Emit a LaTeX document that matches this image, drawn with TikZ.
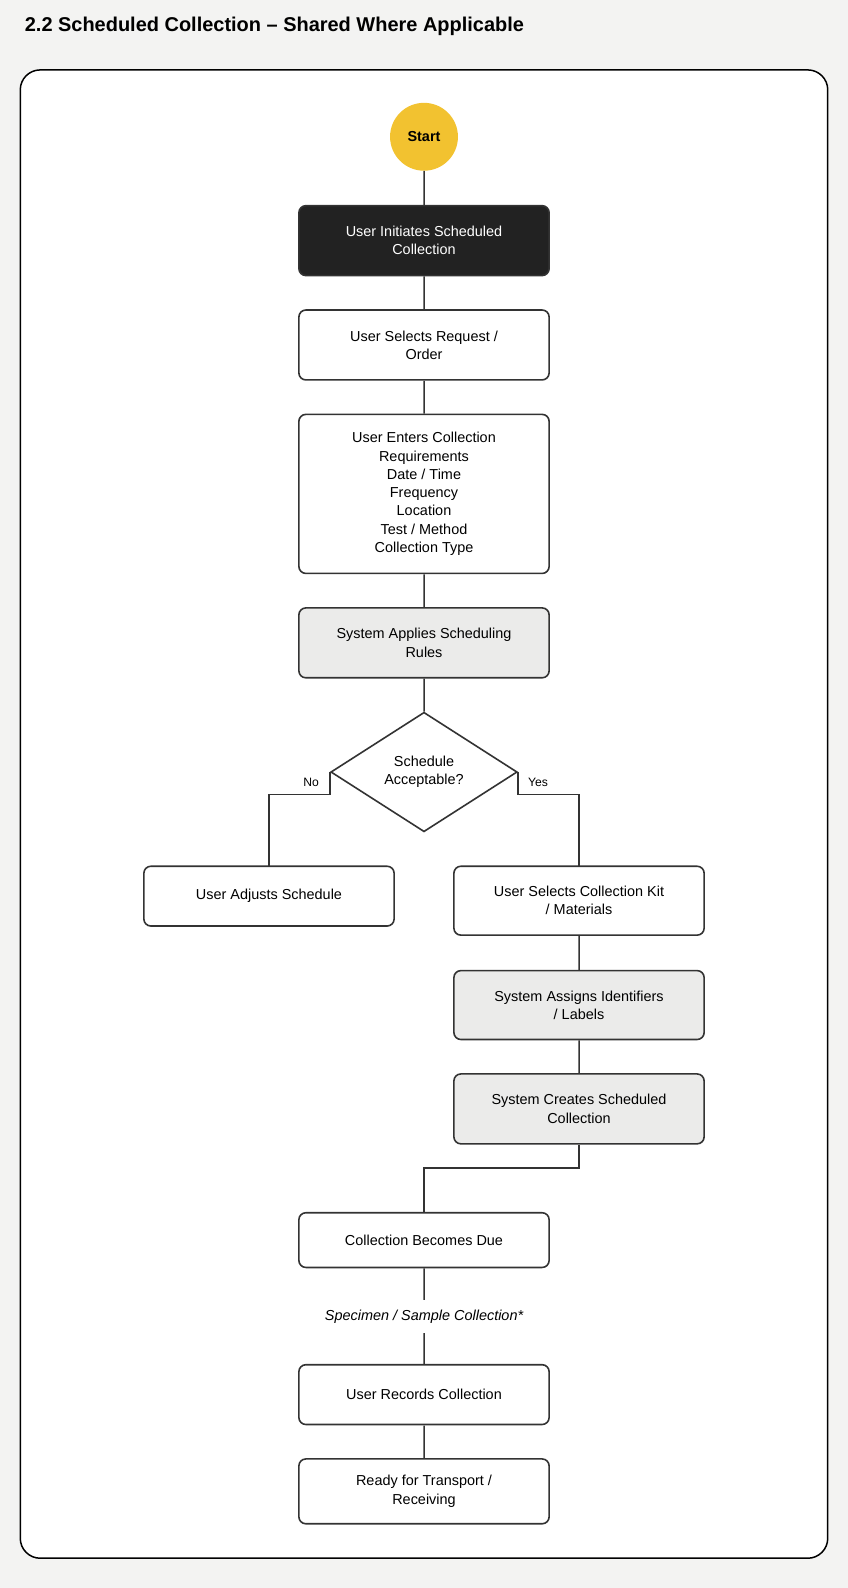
\documentclass[tikz,border=0pt]{standalone}
\usepackage{fontspec}
\setmainfont{Liberation Sans}
\usetikzlibrary{shapes.geometric}
\definecolor{bgc}{HTML}{F3F3F2}
\definecolor{linec}{HTML}{333333}
\definecolor{darkc}{HTML}{222222}
\definecolor{grayc}{HTML}{EBEBEA}
\definecolor{startc}{HTML}{F2C230}
\begin{document}
\begin{tikzpicture}[x=1pt,y=-1pt,scale=1.0131,
  every node/.style={transform shape, font=\fontsize{14.25}{18}\selectfont, text=black},
  procbox/.style={draw=linec, line width=1.6pt, rounded corners=7pt, fill=white, minimum width=247pt, align=center, inner sep=0pt},
  darkbox/.style={procbox, fill=darkc, text=white},
  graybox/.style={procbox, fill=grayc},
  conn/.style={draw=linec, line width=1.6pt},
  lbl/.style={font=\fontsize{12}{14}\selectfont}
]
\useasboundingbox (0,0) rectangle (837,1567.4);
\fill[bgc] (0,0) rectangle (837,1567.4);
\node[anchor=west, font=\bfseries\fontsize{19.7}{23}\selectfont] (title) at (21,26) {2.2 Scheduled Collection – Shared Where Applicable};
\draw[draw=black, line width=1.5pt, fill=white, rounded corners=20pt] (20,69) rectangle (817,1538);

\node[circle, fill=startc, minimum size=67pt, inner sep=0pt, font=\bfseries\fontsize{14.25}{16}\selectfont] (start) at (418.5,135) {Start};
\node[darkbox, minimum height=69pt] (b1) at (418.5,237.5) {User Initiates Scheduled\\Collection};
\node[procbox, minimum height=69pt] (b2) at (418.5,340.5) {User Selects Request /\\Order};
\node[procbox, minimum height=157pt] (b3) at (418.5,487.5) {User Enters Collection\\Requirements\\Date / Time\\Frequency\\Location\\Test / Method\\Collection Type};
\node[graybox, minimum height=69pt] (b4) at (418.5,634.5) {System Applies Scheduling\\Rules};
\node[diamond, draw=linec, line width=1.6pt, fill=white, minimum width=184pt, minimum height=118pt, inner sep=0pt, align=center] (dia) at (418.5,762) {Schedule\\Acceptable?};
\node[procbox, minimum height=59pt] (adj) at (265.5,884.5) {User Adjusts Schedule};
\node[procbox, minimum height=68pt] (kit) at (571.5,889) {User Selects Collection Kit\\/ Materials};
\node[graybox, minimum height=68pt] (ids) at (571.5,992) {System Assigns Identifiers\\/ Labels};
\node[graybox, minimum height=69pt] (cre) at (571.5,1094.5) {System Creates Scheduled\\Collection};
\node[procbox, minimum height=54pt] (due) at (418.5,1224) {Collection Becomes Due};
\node[procbox, minimum height=59pt] (rec) at (418.5,1376.5) {User Records Collection};
\node[procbox, minimum height=64pt] (rdy) at (418.5,1472) {Ready for Transport /\\Receiving};

\draw[conn] (start) -- (b1);
\draw[conn] (b1) -- (b2);
\draw[conn] (b2) -- (b3);
\draw[conn] (b3) -- (b4);
\draw[conn] (b4) -- (dia);
\draw[conn] (dia.west) -- ++(0,22) -| (adj.north);
\draw[conn] (dia.east) -- ++(0,22) -| (kit.north);
\node[lbl] (nolbl) at (307,772) {No};
\node[lbl] (yeslbl) at (531,772) {Yes};
\draw[conn] (kit) -- (ids);
\draw[conn] (ids) -- (cre);
\draw[conn] (cre.south) -- ++(0,23) -| (due.north);
\draw[conn] (due) -- node[fill=white, inner sep=0pt, minimum height=32pt, font=\itshape\fontsize{14.25}{18}\selectfont] (spec) {Specimen / Sample Collection*} (rec);
\draw[conn] (rec) -- (rdy);
\end{tikzpicture}
\end{document}
